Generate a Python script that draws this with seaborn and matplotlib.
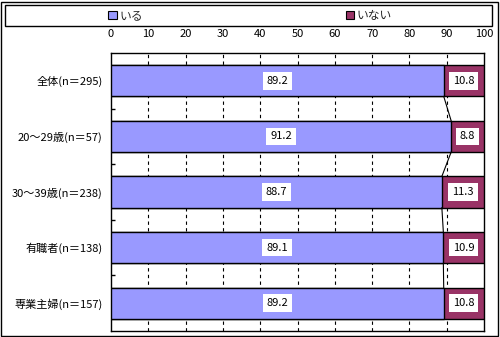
import matplotlib
matplotlib.use("Agg")
import matplotlib.pyplot as plt
import matplotlib.patches as mpatches
import seaborn as sns
import numpy as np
import pandas as pd

categories = ["全体(n＝295)", "20～29歳(n＝57)", "30～39歳(n＝238)", "有職者(n＝138)", "専業主婦(n＝157)"]
iru = [89.2, 91.2, 88.7, 89.1, 89.2]
inai = [10.8, 8.8, 11.3, 10.9, 10.8]
series_names = ["いる", "いない"]
x_ticks = [0, 10, 20, 30, 40, 50, 60, 70, 80, 90, 100]

c_iru = "#9999FF"
c_inai = "#993366"

sns.set_theme(style="white")
plt.rcParams['font.family'] = ['Noto Sans CJK JP', 'DejaVu Sans']

df = pd.DataFrame({"cat": categories, "iru": iru, "inai": inai})
df["total"] = df["iru"] + df["inai"]

fig = plt.figure(figsize=(5.0, 3.37), dpi=100)
ax = fig.add_axes([111/500, 1-331/337, 373/500, (331-53)/337])

bar_w = 0.56
sns.barplot(data=df, x="total", y="cat", orient="h", color=c_inai, width=bar_w,
            edgecolor="black", linewidth=1.0, saturation=1, ax=ax, zorder=3, label=series_names[1])
sns.barplot(data=df, x="iru", y="cat", orient="h", color=c_iru, width=bar_w,
            edgecolor="black", linewidth=1.0, saturation=1, ax=ax, zorder=4, label=series_names[0])

fs = 8
box = dict(boxstyle="square,pad=0.35", fc="white", ec="none")
for i, (a, b) in enumerate(zip(iru, inai)):
    ax.text(a / 2, i, f"{a:.1f}", ha="center", va="center", fontsize=fs, color="black", bbox=box, zorder=6)
    ax.text(a + b / 2, i, f"{b:.1f}", ha="center", va="center", fontsize=fs, color="black", bbox=box, zorder=6)

# series lines between bars
for i in range(len(iru) - 1):
    ax.plot([iru[i], iru[i + 1]], [i + bar_w / 2, i + 1 - bar_w / 2], color="black", lw=0.8, zorder=5)

ax.set_xlim(0, 100)
ax.set_ylim(len(categories) - 0.5, -0.5)
ax.xaxis.tick_top()
ax.set_xticks(x_ticks)
ax.set_xticklabels([str(t) for t in x_ticks])
ax.tick_params(axis="x", length=0, pad=10, labelsize=fs, colors="black")
ax.tick_params(axis="y", length=0, pad=6, labelsize=fs, colors="black")
ax.set_yticks(range(len(categories)), minor=False)
ax.set_yticks(np.arange(0.5, len(categories) - 0.5, 1.0), minor=True)
ax.tick_params(axis="y", which="minor", direction="in", length=3, width=1, color="black", left=True)
ax.set_xlabel("")
ax.set_ylabel("")
ax.grid(False)
for t in x_ticks[1:-1]:
    ax.axvline(t, color="black", lw=0.8, ls=(0, (3, 3)), zorder=1)
for s in ax.spines.values():
    s.set_visible(True)
    s.set_color("black")
    s.set_linewidth(1.0)
if ax.get_legend() is not None:
    ax.get_legend().remove()

# legend
handles = [mpatches.Patch(facecolor=c_iru, edgecolor="black", lw=0.8, label=series_names[0]),
           mpatches.Patch(facecolor=c_inai, edgecolor="black", lw=0.8, label=series_names[1])]
fig.add_artist(mpatches.Rectangle((5/500, 1-26/337), 487/500, 21/337, transform=fig.transFigure,
                                  fill=False, ec="black", lw=1.0))
fig.legend(handles=handles, loc="center", ncol=2, mode="expand",
           bbox_to_anchor=(108/500, 1-26/337, (392-108)/500, 21/337),
           frameon=False, fontsize=fs + 0.5, handlelength=0.75, handleheight=0.75,
           handletextpad=0.2, borderpad=0.0, borderaxespad=0.0)

# outer border
fig.add_artist(mpatches.Rectangle((0.5/500, 1.5/337), 497/500, 334/337, transform=fig.transFigure,
                                  fill=False, ec="black", lw=1.0))

fig.savefig("out.png", dpi=100)
